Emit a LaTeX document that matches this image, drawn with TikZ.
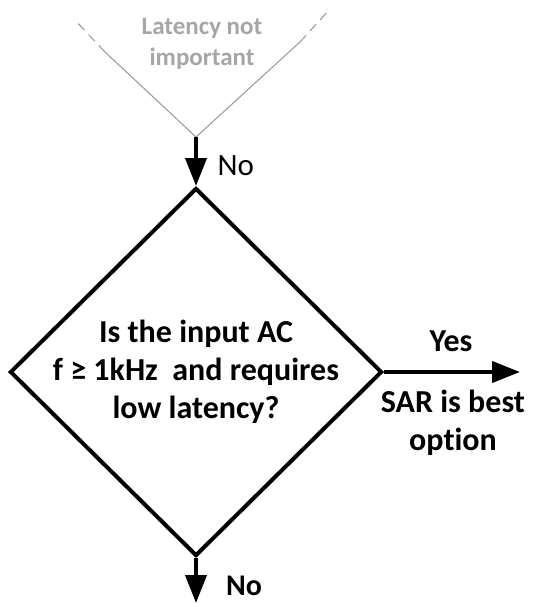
\documentclass[tikz,border=0pt]{standalone}
\usepackage{fontspec}
\setmainfont{Carlito}[Ligatures=CommonOff]
\usepackage{tikz}
\usetikzlibrary{arrows.meta,shapes.geometric}
\definecolor{vgray}{RGB}{150,150,150}
\definecolor{tgray}{RGB}{166,166,166}

\begin{document}
\begin{tikzpicture}[x=1pt,y=-1pt,
        flow/.style={line width=4pt, -{Triangle[length=28pt,width=21pt]}},
        big/.style={font=\fontsize{32}{38}\selectfont\bfseries, align=center, inner sep=0pt}]
            \useasboundingbox (0,0) rectangle (543,603);

            % the latency branch coming in from above
            \coordinate (v) at (196,137);
            \coordinate (vl) at (105,52);
            \coordinate (vr) at (300,42);
            \draw[color=vgray, line width=1pt] (vl) -- (v) -- (vr);
            \draw[color=vgray, line width=1pt, dash pattern=on 9pt off 6pt] (vl) -- (74,19);
            \draw[color=vgray, line width=1pt, dash pattern=on 9pt off 6pt] (vr) -- (329,10);
            \node[color=tgray, font=\fontsize{25}{31}\selectfont\bfseries, align=center] (lat) at (202,44) {Latency not\\important};

            % decision
            \node[diamond, draw, line width=4pt, minimum width=372pt, minimum height=368pt, inner sep=0pt] (q) at (196,372) {};
            \node[big] (qt) at (q) {Is the input AC\\f ≥ 1kHz\ \ and requires\\low latency?};

            \draw[flow] (v) -- (q.north);
            \node[font=\fontsize{31}{36}\selectfont, anchor=west] (no1) at (214,166) {No};

            \coordinate (yend) at (520,372);
            \draw[flow] (q.east) -- (yend);
            \node[big] (yes) at (451,341) {Yes};
            \node[big] (sar) at (453,423) {SAR is best\\option};

            \coordinate (nend) at (196,603);
            \draw[flow] (q.south) -- (nend);
            \node[font=\fontsize{30}{36}\selectfont\bfseries, anchor=west, inner sep=1pt] (no2) at (225,586) {No};
        \end{tikzpicture}
\end{document}
